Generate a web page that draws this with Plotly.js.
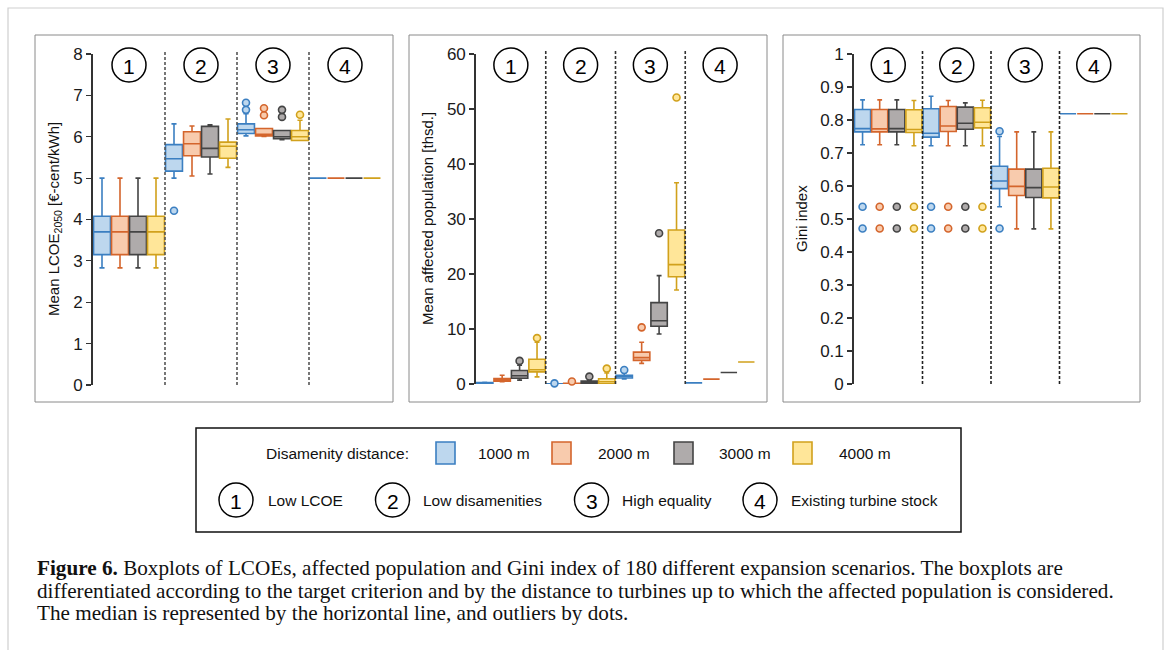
<!DOCTYPE html>
<html><head><meta charset="utf-8">
<script src="https://cdn.plot.ly/plotly-3.0.1.min.js"></script>
<style>html,body{margin:0;padding:0;background:#fff}#chart{width:1168px;height:650px}</style>
</head><body><div id="chart"></div>
<script>
// ---------------- DATA ----------------
const groups = ['1', '2', '3', '4'];
const groupNames = ['Low LCOE', 'Low disamenities', 'High equality', 'Existing turbine stock'];
const seriesNames = ['1000 m', '2000 m', '3000 m', '4000 m'];

// LCOE [€-cent/kWh]; each row = one disamenity distance, columns = groups 1..4
const lcoeLow  = [[2.83, 5.00, 6.02, 5.0], [2.83, 5.05, 6.01, 5.0], [2.83, 5.10, 5.93, 5.0], [2.83, 5.26, 5.91, 5.0]];
const lcoeQ1   = [[3.15, 5.17, 6.08, 5.0], [3.15, 5.54, 6.02, 5.0], [3.15, 5.51, 5.95, 5.0], [3.15, 5.48, 5.91, 5.0]];
const lcoeMed  = [[3.70, 5.47, 6.17, 5.0], [3.70, 5.83, 6.06, 5.0], [3.70, 5.72, 6.00, 5.0], [3.70, 5.77, 6.00, 5.0]];
const lcoeQ3   = [[4.08, 5.81, 6.31, 5.0], [4.08, 6.12, 6.20, 5.0], [4.08, 6.25, 6.15, 5.0], [4.08, 5.87, 6.15, 5.0]];
const lcoeHigh = [[5.00, 6.31, 6.56, 5.0], [5.00, 6.26, 6.20, 5.0], [5.00, 6.29, 6.15, 5.0], [5.00, 6.43, 6.40, 5.0]];
const lcoeOutGroup = [[1, 2, 2], [2, 2], [2, 2], [2]];
const lcoeOutVal   = [[4.21, 6.65, 6.82], [6.52, 6.69], [6.48, 6.65], [6.53]];

// Mean affected population [thsd.]
const popLow  = [[0.10, 0.00, 0.90, 0.20], [0.40, 0.05, 3.75, 0.88], [0.70, 0.00, 9.1, 2.1], [1.30, 0.00, 17.1, 4.0]];
const popQ1   = [[0.15, 0.00, 1.10, 0.20], [0.50, 0.05, 4.30, 0.88], [1.05, 0.05, 10.5, 2.1], [2.20, 0.05, 19.5, 4.0]];
const popMed  = [[0.20, 0.02, 1.40, 0.20], [0.75, 0.10, 4.80, 0.88], [1.50, 0.25, 11.5, 2.1], [2.60, 0.40, 21.7, 4.0]];
const popQ3   = [[0.25, 0.05, 1.60, 0.20], [1.00, 0.15, 5.80, 0.88], [2.45, 0.55, 14.8, 2.1], [4.50, 0.95, 28.0, 4.0]];
const popHigh = [[0.30, 0.10, 2.00, 0.20], [1.60, 0.20, 7.60, 0.88], [3.40, 0.70, 19.7, 2.1], [7.60, 2.00, 36.6, 4.0]];
const popOutGroup = [[1, 2], [1, 2], [0, 1, 2], [0, 1, 2]];
const popOutVal   = [[0.12, 2.55], [0.45, 10.3], [4.2, 1.35, 27.4], [8.35, 2.8, 52.1]];

// Gini index
const giniLow  = [[0.725, 0.722, 0.537, 0.819], [0.725, 0.722, 0.470, 0.819], [0.725, 0.722, 0.470, 0.819], [0.722, 0.722, 0.470, 0.819]];
const giniQ1   = [[0.764, 0.748, 0.592, 0.819], [0.764, 0.765, 0.571, 0.819], [0.764, 0.772, 0.565, 0.819], [0.762, 0.776, 0.564, 0.819]];
const giniMed  = [[0.774, 0.760, 0.615, 0.819], [0.773, 0.782, 0.599, 0.819], [0.774, 0.790, 0.595, 0.819], [0.771, 0.793, 0.597, 0.819]];
const giniQ3   = [[0.832, 0.834, 0.660, 0.819], [0.832, 0.841, 0.651, 0.819], [0.832, 0.839, 0.651, 0.819], [0.831, 0.837, 0.654, 0.819]];
const giniHigh = [[0.861, 0.872, 0.750, 0.819], [0.861, 0.859, 0.764, 0.819], [0.861, 0.852, 0.764, 0.819], [0.859, 0.860, 0.764, 0.819]];
const giniOutGroup = [[0, 0, 1, 1, 2, 2], [0, 0, 1, 1], [0, 0, 1, 1], [0, 0, 1, 1]];
const giniOutVal   = [[0.537, 0.471, 0.537, 0.471, 0.766, 0.471], [0.537, 0.471, 0.537, 0.471], [0.537, 0.471, 0.537, 0.471], [0.537, 0.471, 0.537, 0.471]];

// ---------------- STYLE ----------------
const edgeColors = ['#3b7fc1', '#d4652c', '#444444', '#d1a11c'];
const fillColors = ['#bdd7ee', '#f8cbad', '#afabab', '#ffe699'];
const W = 1168, H = 650;
const px = v => v / W;
const py = v => 1 - v / H;
const FONT = 'Liberation Sans, Arial, sans-serif';

const panels = [
  {low: lcoeLow, q1: lcoeQ1, med: lcoeMed, q3: lcoeQ3, high: lcoeHigh, og: lcoeOutGroup, ov: lcoeOutVal,
   xd: [93, 381], yd: [385, 54], yr: [0, 8], dtick: 1, title: 'Mean LCOE<sub>2050</sub> [€-cent/kWh]', tx: 55, frame: [35, 393], divColor: '#555'},
  {low: popLow, q1: popQ1, med: popMed, q3: popQ3, high: popHigh, og: popOutGroup, ov: popOutVal,
   xd: [476, 755], yd: [384, 54], yr: [0, 60], dtick: 10, title: 'Mean affected population [thsd.]', tx: 428, frame: [409, 767], divColor: '#333'},
  {low: giniLow, q1: giniQ1, med: giniMed, q3: giniQ3, high: giniHigh, og: giniOutGroup, ov: giniOutVal,
   xd: [854, 1128], yd: [384, 54], yr: [0, 1], dtick: 0.1, title: 'Gini index', tx: 802, frame: [783, 1140], divColor: '#222'}
];

const pos = (g, s) => g + 0.125 + 0.25 * s;

const traces = [];
const shapes = [];
const annotations = [];
const layout = {
  width: W, height: H,
  margin: {l: 0, r: 0, t: 0, b: 0},
  paper_bgcolor: '#ffffff', plot_bgcolor: 'rgba(0,0,0,0)',
  showlegend: false, boxmode: 'overlay',
  font: {family: FONT, color: '#222'}
};

panels.forEach((p, i) => {
  const xa = i === 0 ? 'x' : 'x' + (i + 1);
  const ya = i === 0 ? 'y' : 'y' + (i + 1);
  const xk = i === 0 ? 'xaxis' : 'xaxis' + (i + 1);
  const yk = i === 0 ? 'yaxis' : 'yaxis' + (i + 1);
  layout[xk] = {domain: [px(p.xd[0]), px(p.xd[1])], range: [0, 4], anchor: ya,
    showgrid: false, zeroline: false, showline: false, showticklabels: false, ticks: '', fixedrange: true};
  layout[yk] = {domain: [py(p.yd[0]), py(p.yd[1])], range: p.yr, anchor: xa, dtick: p.dtick,
    showgrid: false, zeroline: false, showline: true, linecolor: '#333', linewidth: 1.8,
    ticks: 'outside', ticklen: 5, tickwidth: 1.2, tickcolor: '#333',
    tickfont: {family: FONT, size: 17, color: '#1a1a1a'}, fixedrange: true};

  seriesNames.forEach((name, s) => {
    traces.push({
      type: 'box', name: name, xaxis: xa, yaxis: ya,
      x: groups.map((g, gi) => pos(gi, s)),
      q1: p.q1[s], median: p.med[s], q3: p.q3[s], lowerfence: p.low[s], upperfence: p.high[s],
      width: 0.235, whiskerwidth: 0.3, boxpoints: false,
      fillcolor: fillColors[s], line: {color: edgeColors[s], width: 1.6},
      hoverinfo: 'skip'
    });
    traces.push({
      type: 'scatter', mode: 'markers', xaxis: xa, yaxis: ya,
      x: p.og[s].map(g => pos(g, s)), y: p.ov[s],
      marker: {symbol: 'circle', size: 7, color: fillColors[s], line: {color: edgeColors[s], width: 1.6}},
      hoverinfo: 'skip', cliponaxis: false
    });
  });

  // dividers between target criteria
  [1, 2, 3].forEach(d => {
    shapes.push({type: 'line', xref: xa, yref: ya + ' domain', x0: d, x1: d, y0: 0, y1: 1.01,
      line: {color: p.divColor, width: 1.6, dash: '3px,2px'}});
  });
  // circled numbers
  groups.forEach((g, gi) => {
    shapes.push({type: 'circle', xref: xa, yref: 'paper', xsizemode: 'pixel', ysizemode: 'pixel',
      xanchor: gi + 0.5, yanchor: py(65), x0: -17, x1: 17, y0: -17, y1: 17,
      line: {color: '#000', width: 1.5}, fillcolor: '#fff', layer: 'above'});
    annotations.push({xref: xa, yref: 'paper', x: gi + 0.5, y: py(66), text: g, showarrow: false,
      font: {family: FONT, size: 21, color: '#000'}, xanchor: 'center', yanchor: 'middle'});
  });
  // panel frame
  shapes.push({type: 'rect', xref: 'paper', yref: 'paper', x0: px(p.frame[0]), x1: px(p.frame[1]),
    y0: py(402), y1: py(35), line: {color: '#8a8a8a', width: 1}, layer: 'below'});
  // y-axis title
  annotations.push({xref: 'paper', yref: 'paper', x: px(p.tx), y: py(219), text: p.title, textangle: -90,
    showarrow: false, xanchor: 'center', yanchor: 'middle', font: {family: FONT, size: 15, color: '#111'}});
});

// outer figure border
shapes.push({type: 'rect', xref: 'paper', yref: 'paper', x0: px(8), x1: px(1163), y0: py(660), y1: py(8),
  line: {color: '#cfcfcf', width: 1.2}, layer: 'below'});

// ---------------- LEGEND ----------------
shapes.push({type: 'rect', xref: 'paper', yref: 'paper', x0: px(196), x1: px(961), y0: py(532), y1: py(428),
  line: {color: '#111', width: 1.5}});
annotations.push({xref: 'paper', yref: 'paper', x: px(264), y: py(453), text: 'Disamenity distance:',
  showarrow: false, xanchor: 'left', yanchor: 'middle', font: {family: FONT, size: 15.5, color: '#111'}});
const legSq = [436, 552, 674, 793];
const legTx = [476, 596, 717, 837];
seriesNames.forEach((name, s) => {
  shapes.push({type: 'rect', xref: 'paper', yref: 'paper', x0: px(legSq[s]), x1: px(legSq[s] + 19),
    y0: py(464), y1: py(442), fillcolor: fillColors[s], line: {color: edgeColors[s], width: 1.6}});
  annotations.push({xref: 'paper', yref: 'paper', x: px(legTx[s]), y: py(453), text: name,
    showarrow: false, xanchor: 'left', yanchor: 'middle', font: {family: FONT, size: 15.5, color: '#111'}});
});
const legCirc = [236, 392.5, 591.5, 760];
const legCircTx = [266, 421, 620, 789];
groups.forEach((g, gi) => {
  shapes.push({type: 'circle', xref: 'paper', yref: 'paper', x0: px(legCirc[gi] - 17), x1: px(legCirc[gi] + 17),
    y0: py(517), y1: py(483), line: {color: '#000', width: 1.5}});
  annotations.push({xref: 'paper', yref: 'paper', x: px(legCirc[gi]), y: py(501), text: g, showarrow: false,
    xanchor: 'center', yanchor: 'middle', font: {family: FONT, size: 21, color: '#000'}});
  annotations.push({xref: 'paper', yref: 'paper', x: px(legCircTx[gi]), y: py(500), text: groupNames[gi],
    showarrow: false, xanchor: 'left', yanchor: 'middle', font: {family: FONT, size: 15.5, color: '#111'}});
});

// ---------------- CAPTION ----------------
const captionLines = [
  '<b>Figure 6.</b> Boxplots of LCOEs, affected population and Gini index of 180 different expansion scenarios. The boxplots are',
  'differentiated according to the target criterion and by the distance to turbines up to which the affected population is considered.',
  'The median is represented by the horizontal line, and outliers by dots.'
];
const captionY = [568, 591, 613];
captionLines.forEach((t, i) => {
  annotations.push({xref: 'paper', yref: 'paper', x: px(35), y: py(captionY[i]), text: t, showarrow: false,
    xanchor: 'left', yanchor: 'middle', font: {family: 'Liberation Serif, Times New Roman, serif', size: 21.2, color: '#111'}});
});

layout.shapes = shapes;
layout.annotations = annotations;
Plotly.newPlot('chart', traces, layout, {staticPlot: true, displayModeBar: false});
</script></body></html>
